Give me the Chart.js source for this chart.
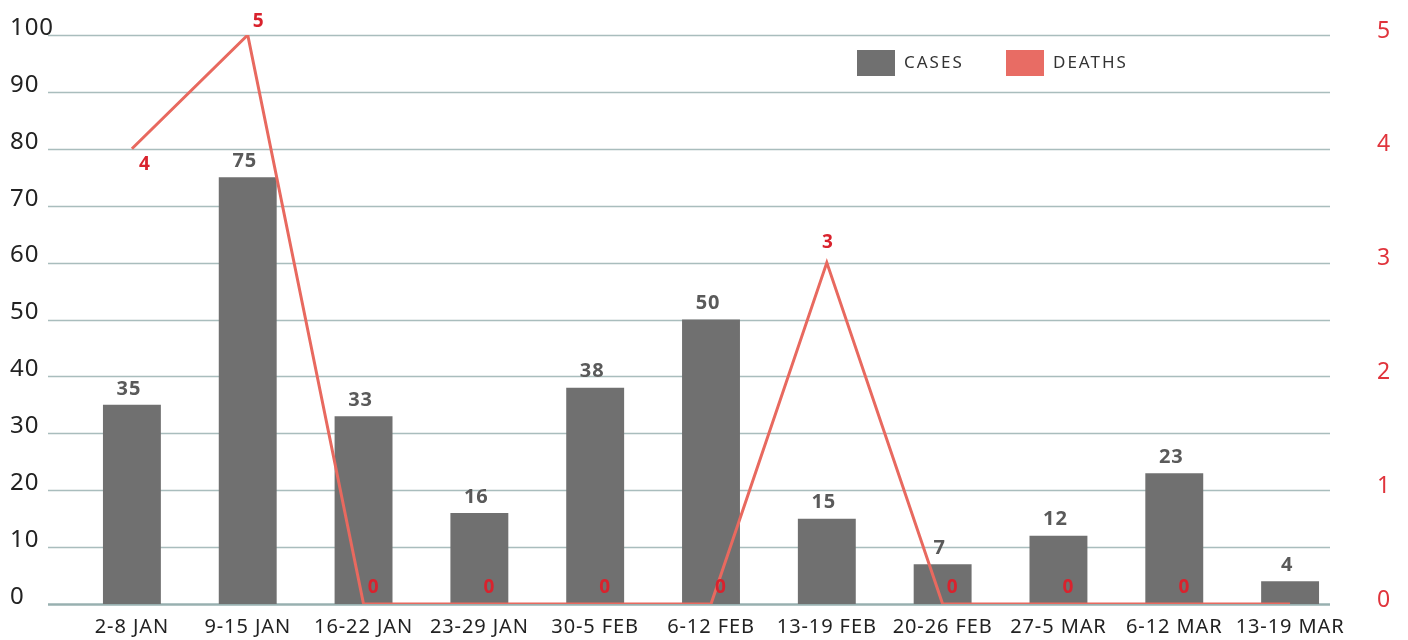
<!DOCTYPE html>
<html>
<head>
<meta charset="utf-8">
<script src="https://cdn.jsdelivr.net/npm/chart.js@4/dist/chart.umd.min.js"></script>
<style>
  html, body { margin: 0; padding: 0; background: #ffffff; }
  #wrap { width: 1408px; height: 640px; position: relative; }
</style>
</head>
<body>
<div id="wrap"><canvas id="c" width="1408" height="640"></canvas></div>
<script>
const categories = ['2-8 JAN', '9-15 JAN', '16-22 JAN', '23-29 JAN', '30-5 FEB', '6-12 FEB', '13-19 FEB', '20-26 FEB', '27-5 MAR', '6-12 MAR', '13-19 MAR'];
const cases = [35, 75, 33, 16, 38, 50, 15, 7, 12, 23, 4];
const deaths = [4, 5, 0, 0, 0, 0, 3, 0, 0, 0, 0];
const deathLabels = ['4', '5', '0', '0', '0', '0', '3', '0', '0', '0', ''];
const leftTicks = [0, 10, 20, 30, 40, 50, 60, 70, 80, 90, 100];
const rightTicks = [0, 1, 2, 3, 4, 5];

const FONT = '"Noto Sans", "Open Sans", sans-serif';
const BAR_COLOR = '#707070';
const LINE_COLOR = '#e8695f';
const RED_TEXT = '#d9222d';

const spacingPlugin = {
  id: 'spacingPlugin',
  beforeDraw(chart) {
    try { chart.ctx.letterSpacing = '0.9px'; } catch (e) {}
  }
};

const gridPlugin = {
  id: 'gridPlugin',
  beforeDatasetsDraw(chart) {
    const { ctx, chartArea } = chart;
    const y = chart.scales.y;
    ctx.save();
    leftTicks.forEach(v => {
      const py = Math.round(y.getPixelForValue(v)) + 0.5;
      ctx.strokeStyle = v === 0 ? '#98b0b0' : '#a9bdbd';
      ctx.lineWidth = v === 0 ? 2.5 : 1.3;
      ctx.beginPath();
      ctx.moveTo(chartArea.left - 26, py);
      ctx.lineTo(chartArea.right - 18, py);
      ctx.stroke();
    });
    ctx.restore();
  }
};

const labelPlugin = {
  id: 'labelPlugin',
  afterDatasetsDraw(chart) {
    const { ctx } = chart;
    ctx.save();
    ctx.textAlign = 'center';
    ctx.textBaseline = 'middle';
    const barMeta = chart.getDatasetMeta(0);
    ctx.font = 'bold 20px ' + FONT;
    ctx.fillStyle = '#5a5a5a';
    barMeta.data.forEach((bar, i) => {
      ctx.fillText(String(cases[i]), bar.x - 3, bar.y - 16);
    });
    const lineMeta = chart.getDatasetMeta(1);
    ctx.font = 'bold 19px ' + FONT;
    ctx.fillStyle = RED_TEXT;
    lineMeta.data.forEach((pt, i) => {
      const t = deathLabels[i];
      if (!t) return;
      let dx = 10, dy = -16;
      if (i === 0) { dx = 13; dy = 16; }
      else if (i === 1) { dx = 11; dy = -13; }
      else if (deaths[i] > 0) { dx = 1; dy = -20; }
      ctx.fillText(t, pt.x + dx, pt.y + dy);
    });
    ctx.restore();
  }
};

const legendPlugin = {
  id: 'legendPlugin',
  afterDraw(chart) {
    const { ctx } = chart;
    ctx.save();
    ctx.font = '17px ' + FONT;
    ctx.textBaseline = 'middle';
    ctx.textAlign = 'left';
    try { ctx.letterSpacing = '2px'; } catch (e) {}
    const items = [
      { x: 857, label: chart.data.datasets[0].label, color: BAR_COLOR },
      { x: 1006, label: chart.data.datasets[1].label, color: '#e86c64' }
    ];
    items.forEach(it => {
      ctx.fillStyle = it.color;
      ctx.fillRect(it.x, 50, 38, 26);
      ctx.fillStyle = '#333333';
      ctx.fillText(it.label, it.x + 47, 63);
    });
    ctx.restore();
  }
};

function noVPad(scale, w) {
  scale.width = w;
  scale.paddingTop = 0;
  scale.paddingBottom = 0;
}

new Chart(document.getElementById('c'), {
  data: {
    labels: categories,
    datasets: [
      {
        type: 'bar',
        label: 'CASES',
        data: cases,
        backgroundColor: BAR_COLOR,
        barPercentage: 0.5,
        categoryPercentage: 1.0,
        yAxisID: 'y',
        order: 2
      },
      {
        type: 'line',
        label: 'DEATHS',
        data: deaths,
        borderColor: LINE_COLOR,
        borderWidth: 3,
        pointRadius: 0,
        tension: 0,
        yAxisID: 'y1',
        order: 1
      }
    ]
  },
  options: {
    responsive: false,
    animation: false,
    layout: { padding: { left: 10, top: 35, right: 0, bottom: 0 } },
    plugins: {
      legend: { display: false },
      tooltip: { enabled: false }
    },
    scales: {
      x: {
        grid: { display: false, drawTicks: false },
        border: { display: false },
        ticks: {
          color: '#222222',
          font: { family: FONT, size: 20 },
          padding: 11,
          maxRotation: 0,
          autoSkip: false
        },
        afterFit(scale) { scale.height = 36; scale.paddingLeft = 0; scale.paddingRight = 0; }
      },
      y: {
        position: 'left',
        min: 0,
        max: 100,
        grid: { display: false, drawTicks: false },
        border: { display: false },
        ticks: {
          stepSize: 10,
          color: '#222222',
          font: { family: FONT, size: 24 },
          crossAlign: 'far',
          labelOffset: -7,
          padding: 0
        },
        afterFit(scale) { noVPad(scale, 64); }
      },
      y1: {
        position: 'right',
        min: 0,
        max: 5,
        grid: { display: false, drawTicks: false },
        border: { display: false },
        ticks: {
          stepSize: 1,
          color: '#e0343c',
          font: { family: FONT, size: 23 },
          labelOffset: -4,
          padding: 29
        },
        afterFit(scale) { noVPad(scale, 60); }
      }
    }
  },
  plugins: [spacingPlugin, gridPlugin, labelPlugin, legendPlugin]
});
</script>
</body>
</html>
